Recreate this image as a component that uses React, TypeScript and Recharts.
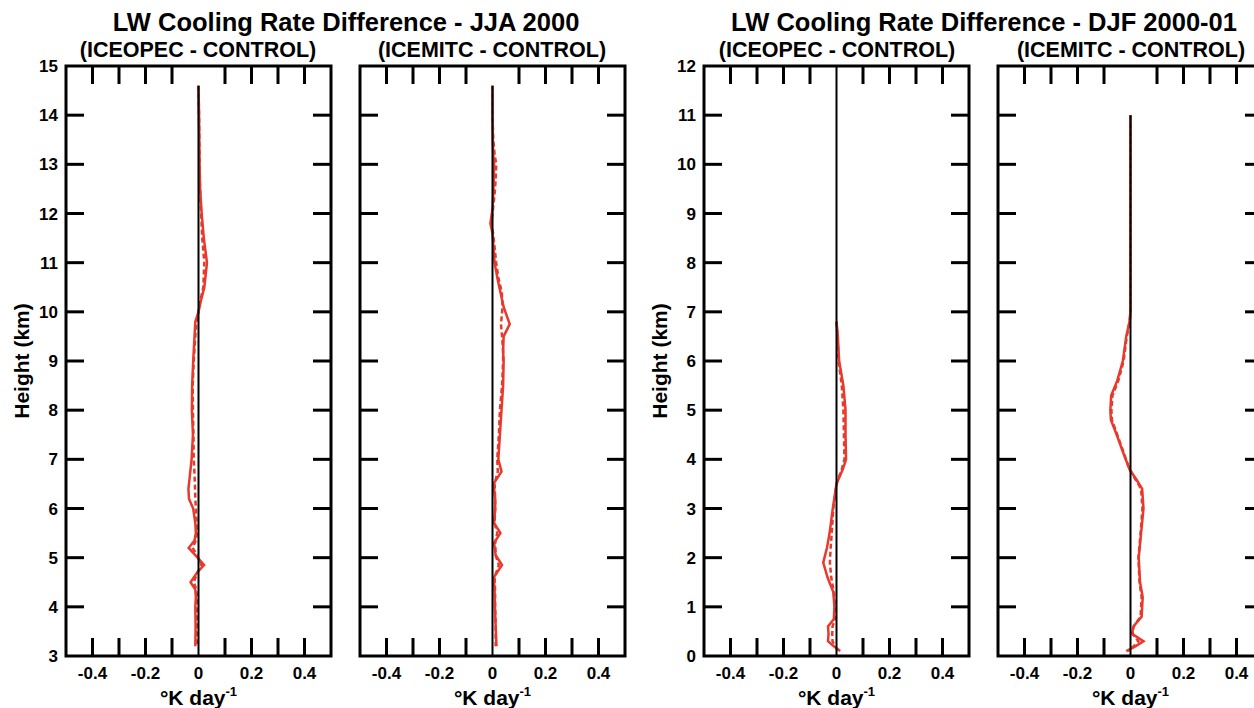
import { LineChart, Line, XAxis, YAxis, ReferenceLine, ReferenceArea, Label } from 'recharts'

const FONT = '"Liberation Sans", Arial, Helvetica, sans-serif'
const RED = '#e8392c'

const xTicks = [-0.4, -0.3, -0.2, -0.1, 0, 0.1, 0.2, 0.3, 0.4]
const jjaTicks = [3, 4, 5, 6, 7, 8, 9, 10, 11, 12, 13, 14, 15]
const djfTicks = [0, 1, 2, 3, 4, 5, 6, 7, 8, 9, 10, 11, 12]

// top of the black zero line in each panel (km)
const zeroTops = [14.6, 14.6, 12, 11]

// JJA 2000, ICEOPEC - CONTROL
const jjaOpecHeights = [14.6, 14.0, 13.5, 13.0, 12.5, 12.0, 11.5, 11.0, 10.5, 10.2, 10.0, 9.8, 9.5, 9.0, 8.5, 8.0, 7.5, 7.0, 6.7, 6.4, 6.2, 6.0, 5.7, 5.5, 5.35, 5.2, 5.05, 4.85, 4.7, 4.5, 4.35, 4.2, 4.0, 3.6, 3.2]
const jjaOpecSolid = [0, 0.002, 0.003, 0.004, 0.006, 0.012, 0.02, 0.032, 0.022, 0.008, 0, -0.012, -0.015, -0.02, -0.024, -0.025, -0.021, -0.026, -0.032, -0.038, -0.036, -0.02, -0.012, -0.01, -0.015, -0.037, -0.012, 0.021, -0.005, -0.03, -0.012, -0.01, -0.012, -0.011, -0.012]
const jjaOpecDashed = [0, 0.002, 0.003, 0.004, 0.006, 0.01, 0.014, 0.022, 0.018, 0.006, 0, -0.008, -0.012, -0.018, -0.022, -0.021, -0.019, -0.018, -0.015, -0.013, -0.012, -0.01, -0.008, -0.006, -0.01, -0.022, -0.006, 0.012, -0.004, -0.018, -0.008, -0.006, -0.006, -0.005, -0.004]

// JJA 2000, ICEMITC - CONTROL
const jjaMitcHeights = [14.6, 14.0, 13.5, 13.2, 13.0, 12.7, 12.4, 12.1, 11.8, 11.6, 11.3, 11.0, 10.7, 10.4, 10.1, 9.75, 9.5, 9.2, 9.0, 8.5, 8.0, 7.5, 7.0, 6.75, 6.5, 6.2, 6.0, 5.7, 5.5, 5.3, 5.05, 4.85, 4.6, 4.3, 4.0, 3.6, 3.2]
const jjaMitcSolid = [0, 0, 0.001, 0.003, 0.006, 0.005, 0.003, 0, -0.008, 0, 0.004, 0.008, 0.018, 0.03, 0.042, 0.065, 0.042, 0.04, 0.042, 0.04, 0.034, 0.028, 0.022, 0.034, 0.004, 0.01, 0.01, 0.006, 0.03, 0.006, 0.012, 0.036, 0.005, 0.008, 0.009, 0.012, 0.015]
const jjaMitcDashed = [0, 0, 0.003, 0.008, 0.014, 0.012, 0.008, 0.002, -0.004, 0.002, 0.008, 0.014, 0.022, 0.035, 0.038, 0.032, 0.036, 0.04, 0.04, 0.036, 0.028, 0.024, 0.018, 0.02, 0.008, 0.01, 0.01, 0.008, 0.018, 0.01, 0.012, 0.024, 0.008, 0.01, 0.01, 0.012, 0.012]

// DJF 2000-01, ICEOPEC - CONTROL
const djfOpecHeights = [6.8, 6.5, 6.0, 5.5, 5.0, 4.5, 4.0, 3.8, 3.5, 3.0, 2.5, 2.2, 1.9, 1.6, 1.3, 1.0, 0.75, 0.6, 0.45, 0.3, 0.2, 0.1]
const djfOpecSolid = [0, 0.005, 0.01, 0.026, 0.034, 0.034, 0.036, 0.024, 0, -0.014, -0.026, -0.036, -0.05, -0.034, -0.012, -0.008, -0.01, -0.032, -0.03, -0.032, -0.01, 0.014]
const djfOpecDashed = [0, 0.004, 0.008, 0.02, 0.026, 0.028, 0.03, 0.02, 0, -0.012, -0.018, -0.022, -0.025, -0.02, -0.01, -0.006, -0.006, -0.015, -0.016, -0.015, -0.005, 0.006]

// DJF 2000-01, ICEMITC - CONTROL
const djfMitcHeights = [11.0, 10.0, 9.0, 8.0, 7.0, 6.8, 6.5, 6.0, 5.6, 5.3, 5.0, 4.8, 4.5, 4.2, 3.8, 3.6, 3.4, 3.0, 2.5, 2.0, 1.5, 1.2, 0.8, 0.6, 0.45, 0.3, 0.2, 0.1]
const djfMitcSolid = [0, 0, 0, 0, 0, -0.004, -0.016, -0.029, -0.05, -0.073, -0.076, -0.074, -0.052, -0.032, -0.004, 0.021, 0.044, 0.049, 0.04, 0.031, 0.036, 0.046, 0.042, 0.011, 0.006, 0.049, 0.02, -0.016]
const djfMitcDashed = [0, 0, 0, 0, 0, -0.003, -0.014, -0.026, -0.046, -0.068, -0.072, -0.07, -0.05, -0.03, -0.004, 0.018, 0.04, 0.045, 0.038, 0.03, 0.034, 0.042, 0.038, 0.012, 0.008, 0.03, 0.012, -0.01]

const TICK_LEN = 18

const fmtX = (v: number) => (Math.abs(v) < 1e-9 ? '0' : v.toFixed(1))
const isLabelled = (v: number) => Math.round(v * 10) % 2 === 0

function BottomTick(props: any) {
  const { x, y, payload } = props
  const v = payload.value
  return (
    <g>
      {Math.abs(v) > 1e-9 && <line x1={x} x2={x} y1={y} y2={y - TICK_LEN} stroke="#000" strokeWidth={3} />}
      {isLabelled(v) && (
        <text x={x} y={y + 23} textAnchor="middle" fontSize={17} fontWeight="bold" fontFamily={FONT} fill="#000">
          {fmtX(v)}
        </text>
      )}
    </g>
  )
}

function TopTick(props: any) {
  const { x, y, payload } = props
  if (Math.abs(payload.value) < 1e-9) return <g />
  return <line x1={x} x2={x} y1={y} y2={y + TICK_LEN} stroke="#000" strokeWidth={3} />
}

function makeLeftTick(lo: number, hi: number, showLabel: boolean) {
  return (props: any) => {
    const { x, y, payload } = props
    const v = payload.value
    return (
      <g>
        {v !== lo && v !== hi && <line x1={x} x2={x + TICK_LEN} y1={y} y2={y} stroke="#000" strokeWidth={3} />}
        {showLabel && (
          <text x={x - 8} y={y + 6} textAnchor="end" fontSize={17} fontWeight="bold" fontFamily={FONT} fill="#000">
            {v}
          </text>
        )}
      </g>
    )
  }
}

function makeRightTick(lo: number, hi: number) {
  return (props: any) => {
    const { x, y, payload } = props
    const v = payload.value
    if (v === lo || v === hi) return <g />
    return <line x1={x} x2={x - TICK_LEN} y1={y} y2={y} stroke="#000" strokeWidth={3} />
  }
}

function UnitLabel(props: any) {
  const { viewBox } = props
  const cx = viewBox.x + viewBox.width / 2
  return (
    <text x={cx} y={viewBox.y + 49} textAnchor="middle" fontSize={21} fontWeight="bold" fontFamily={FONT} fill="#000">
      <tspan>°K day</tspan>
      <tspan fontSize={13} dy={-9}>-1</tspan>
    </text>
  )
}

function HeightLabel(props: any) {
  const { viewBox } = props
  const cy = viewBox.y + viewBox.height / 2
  const x = 29
  return (
    <text x={x} y={cy} transform={`rotate(-90, ${x}, ${cy})`} textAnchor="middle" fontSize={21} fontWeight="bold" fontFamily={FONT} fill="#000">
      Height (km)
    </text>
  )
}

type PanelProps = {
  left: number
  heights: number[]
  solid: number[]
  dashed: number[]
  yTicks: number[]
  zeroTop: number
  showY: boolean
}

function Panel({ left, heights, solid, dashed, yTicks, zeroTop, showY }: PanelProps) {
  const data = heights.map((h, i) => ({ h, solid: solid[i], dashed: dashed[i] }))
  const lo = yTicks[0]
  const hi = yTicks[yTicks.length - 1]
  return (
    <div style={{ position: 'absolute', left, top: 0 }}>
      <LineChart width={341} height={708} data={data} layout="vertical" margin={{ top: 65, right: 9, bottom: 0, left: 0 }}>
        <XAxis
          type="number"
          domain={[-0.5, 0.5]}
          allowDataOverflow
          ticks={xTicks}
          interval={0}
          height={52}
          tickSize={0}
          tickMargin={0}
          axisLine={false}
          tickLine={false}
          tick={BottomTick}
        >
          <Label content={UnitLabel} />
        </XAxis>
        <XAxis
          xAxisId="top"
          orientation="top"
          type="number"
          domain={[-0.5, 0.5]}
          allowDataOverflow
          ticks={xTicks}
          interval={0}
          height={1}
          tickSize={0}
          tickMargin={0}
          axisLine={false}
          tickLine={false}
          tick={TopTick}
        />
        <YAxis
          type="number"
          dataKey="h"
          domain={[lo, hi]}
          allowDataOverflow
          reversed
          ticks={yTicks}
          interval={0}
          width={66}
          tickSize={0}
          tickMargin={0}
          axisLine={false}
          tickLine={false}
          tick={makeLeftTick(lo, hi, showY)}
        >
          {showY && <Label content={HeightLabel} />}
        </YAxis>
        <YAxis
          yAxisId="right"
          orientation="right"
          type="number"
          dataKey="h"
          domain={[lo, hi]}
          allowDataOverflow
          reversed
          ticks={yTicks}
          interval={0}
          width={1}
          tickSize={0}
          tickMargin={0}
          axisLine={false}
          tickLine={false}
          tick={makeRightTick(lo, hi)}
        />
        <ReferenceArea x1={-0.5} x2={0.5} y1={lo} y2={hi} fill="none" fillOpacity={0} stroke="#000" strokeWidth={3} />
        <Line type="linear" dataKey="dashed" stroke={RED} strokeWidth={2.5} strokeDasharray="5 3" dot={false} isAnimationActive={false} />
        <Line type="linear" dataKey="solid" stroke={RED} strokeWidth={2.5} dot={false} isAnimationActive={false} />
        <ReferenceLine segment={[{ x: 0, y: lo }, { x: 0, y: zeroTop }]} stroke="#000" strokeWidth={2} />
      </LineChart>
    </div>
  )
}

export default function App() {
  const titleStyle = { fontFamily: FONT, fontWeight: 'bold' as const, fill: '#000' }
  return (
    <div style={{ position: 'absolute', left: 0, top: 0, width: 1254, height: 708, overflow: 'hidden', background: '#fff' }}>
      <Panel left={0} heights={jjaOpecHeights} solid={jjaOpecSolid} dashed={jjaOpecDashed} yTicks={jjaTicks} zeroTop={zeroTops[0]} showY />
      <Panel left={294} heights={jjaMitcHeights} solid={jjaMitcSolid} dashed={jjaMitcDashed} yTicks={jjaTicks} zeroTop={zeroTops[1]} showY={false} />
      <Panel left={638} heights={djfOpecHeights} solid={djfOpecSolid} dashed={djfOpecDashed} yTicks={djfTicks} zeroTop={zeroTops[2]} showY />
      <Panel left={932} heights={djfMitcHeights} solid={djfMitcSolid} dashed={djfMitcDashed} yTicks={djfTicks} zeroTop={zeroTops[3]} showY={false} />
      <svg width={1254} height={70} style={{ position: 'absolute', left: 0, top: 0, pointerEvents: 'none' }}>
        <text x={346} y={31} textAnchor="middle" fontSize={25.5} {...titleStyle}>LW Cooling Rate Difference - JJA 2000</text>
        <text x={198} y={57} textAnchor="middle" fontSize={21.5} {...titleStyle}>(ICEOPEC - CONTROL)</text>
        <text x={492} y={57} textAnchor="middle" fontSize={21.5} {...titleStyle}>(ICEMITC - CONTROL)</text>
        <text x={984} y={31} textAnchor="middle" fontSize={25.5} {...titleStyle}>LW Cooling Rate Difference - DJF 2000-01</text>
        <text x={837} y={57} textAnchor="middle" fontSize={21.5} {...titleStyle}>(ICEOPEC - CONTROL)</text>
        <text x={1131} y={57} textAnchor="middle" fontSize={21.5} {...titleStyle}>(ICEMITC - CONTROL)</text>
      </svg>
    </div>
  )
}
